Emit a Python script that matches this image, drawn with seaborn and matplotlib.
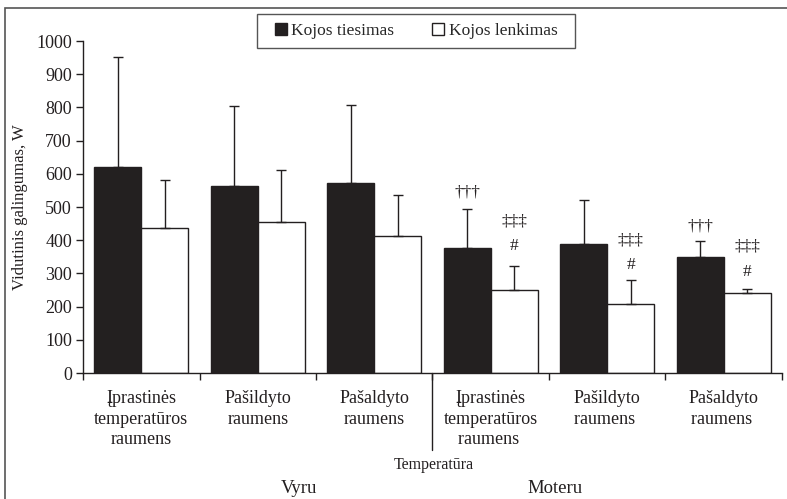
import numpy as np
import pandas as pd
import matplotlib.pyplot as plt
import matplotlib.patches as mpatches
import matplotlib.transforms as mtransforms
import seaborn as sns

# --- data ---
categories = ['Įprastinės\ntemperatūros\nraumens', 'Pašildyto\nraumens', 'Pašaldyto\nraumens',
              'Įprastinės\ntemperatūros\nraumens ', 'Pašildyto\nraumens ', 'Pašaldyto\nraumens ']
series = ['Kojos tiesimas', 'Kojos lenkimas']
tiesimas_mean = [620, 563, 572, 376, 388, 349]
tiesimas_top = [952, 804, 806, 495, 520, 398]
lenkimas_mean = [437, 455, 413, 250, 207, 240]
lenkimas_top = [581, 612, 537, 321, 280, 252]

# significance marks: (category index, series index, label, y)
marks_cat = [3, 3, 3, 4, 4, 5, 5, 5]
marks_ser = [0, 1, 1, 1, 1, 0, 1, 1]
marks_txt = ['†††', '‡‡‡', '#', '‡‡‡', '#', '†††', '‡‡‡', '#']
marks_y = [545, 455, 382, 400, 325, 440, 380, 305]

df = pd.DataFrame({
    'cat': list(range(6)) * 2,
    'series': [series[0]] * 6 + [series[1]] * 6,
    'value': tiesimas_mean + lenkimas_mean,
})

sns.set_style('white')
plt.rcParams['font.family'] = ['Liberation Serif', 'DejaVu Serif']
ink = '#231f20'

fig = plt.figure(figsize=(7.87, 4.99), dpi=100)
ax = fig.add_axes([0.1055, 0.2525, 0.8881, 0.6653])

sns.barplot(data=df, x='cat', y='value', hue='series', hue_order=series,
            palette=[ink, 'white'], edgecolor=ink, linewidth=1,
            width=0.81, errorbar=None, ax=ax)

# upper error bars only, centred on each bar
tops = [tiesimas_top, lenkimas_top]
means = [tiesimas_mean, lenkimas_mean]
bar_containers = list(ax.containers)
centers = {}
for s_i, cont in enumerate(bar_containers):
    for c_i, bar in enumerate(cont):
        cx = bar.get_x() + bar.get_width() / 2
        centers[(c_i, s_i)] = cx
        ax.errorbar(cx, means[s_i][c_i], yerr=[[0], [tops[s_i][c_i] - means[s_i][c_i]]],
                    color=ink, lw=1, capsize=3.4, capthick=1, zorder=1)

for c, s, t, y in zip(marks_cat, marks_ser, marks_txt, marks_y):
    ax.text(centers[(c, s)], y, t, ha='center', va='center', fontsize=12.5, color=ink)

ax.set_xlim(-0.5, 5.5)
ax.set_ylim(0, 1000)
ax.set_yticks(range(0, 1001, 100))
ax.tick_params(axis='y', labelsize=13, length=5, width=1, direction='out', left=True,
               color=ink, labelcolor=ink, pad=3)

ax.set_xticks(np.arange(-0.5, 6, 1))
ax.set_xticklabels([])
ax.set_xticks(range(6), minor=True)
ax.set_xticklabels(categories, minor=True, fontsize=13, linespacing=1.3, color=ink)
ax.tick_params(axis='x', which='major', length=5, width=1, direction='out', bottom=True, color=ink)
ax.tick_params(axis='x', which='minor', length=0, pad=12)

ax.set_xlabel('')
ax.set_ylabel('Vidutinis galingumas, W', fontsize=12, color=ink, labelpad=6)

for side in ['top', 'right']:
    ax.spines[side].set_visible(False)
for side in ['left', 'bottom']:
    ax.spines[side].set_color(ink)
    ax.spines[side].set_linewidth(1)

# long separator between the two groups
trans = mtransforms.blended_transform_factory(ax.transData, ax.transAxes)
ax.plot([2.5, 2.5], [0, -0.232], transform=trans, color=ink, lw=1, clip_on=False)

ax.text(2.513, -0.289, 'Temperatūra', transform=trans, ha='center', va='baseline', fontsize=11.5, color=ink)
ax.text(1.358, -0.362, 'Vyru', transform=trans, ha='center', va='baseline', fontsize=13.5, color=ink)
ax.text(3.55, -0.362, 'Moteru', transform=trans, ha='center', va='baseline', fontsize=13.5, color=ink)

handles, labels = ax.get_legend_handles_labels()
handles, labels = handles[:2], labels[:2]
ax.legend(handles, labels, loc='center', bbox_to_anchor=(0.5286, 0.9379), bbox_transform=fig.transFigure,
          ncol=2, fontsize=12.5, frameon=False,
          handlelength=0.7, handleheight=0.7, handletextpad=0.25, columnspacing=2.2)

# legend box
fig.patches.append(mpatches.Rectangle((257 / 787, 1 - 48 / 499), 318 / 787, 34 / 499,
                                      transform=fig.transFigure, fill=False,
                                      edgecolor='#555555', lw=1, figure=fig))

# outer frame around the whole figure
fig.patches.append(mpatches.Rectangle((5 / 787, -0.2), 1.2, 1.2 - 8 / 499, transform=fig.transFigure,
                                      fill=False, edgecolor='#555555', lw=1.2, figure=fig))

fig.savefig('out.png', dpi=100)
